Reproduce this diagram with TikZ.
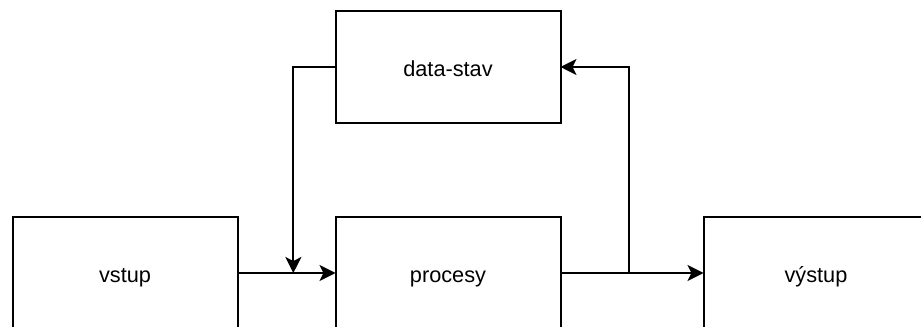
\documentclass[tikz,border=0pt]{standalone}
\usepackage{fontspec}
\setmainfont{Liberation Sans}
\usetikzlibrary{arrows.meta,calc,positioning}
\tikzset{
	box/.style={draw,line width=1.5pt,minimum width=168.75pt,minimum height=84pt,
		outer sep=0pt,text height=16pt,text depth=1pt,
		font=\fontsize{16.3}{19}\selectfont},
	ar/.style={-{Stealth[length=12pt,width=12pt,inset=3pt]}}
}
\begin{document}
\begin{tikzpicture}[x=0.75pt,y=-0.75pt,line width=1.5pt]
	\useasboundingbox (0,0) rectangle (921,327);
	\clip (0,0) rectangle (921,327);
	\node [box] (procesy) at (448,273) {procesy};
	\node [box, left=73.5pt of procesy] (vstup) {vstup};
	\node [box, right=107.25pt of procesy] (vystup) {výstup};
	\node [box, above=70.5pt of procesy] (datastav) {data-stav};
	% points where the feedback loop meets the main line
	\coordinate (merge) at ($(vstup.east)!0.57!(procesy.west)$);
	\coordinate (fork) at ($(procesy.east)!0.48!(vystup.west)$);
	\draw [ar] (vstup) -- (procesy);
	\draw [ar] (procesy) -- (vystup);
	\draw [ar] (fork) |- (datastav);
	\draw [ar] (datastav) -| (merge);
\end{tikzpicture}
\end{document}
